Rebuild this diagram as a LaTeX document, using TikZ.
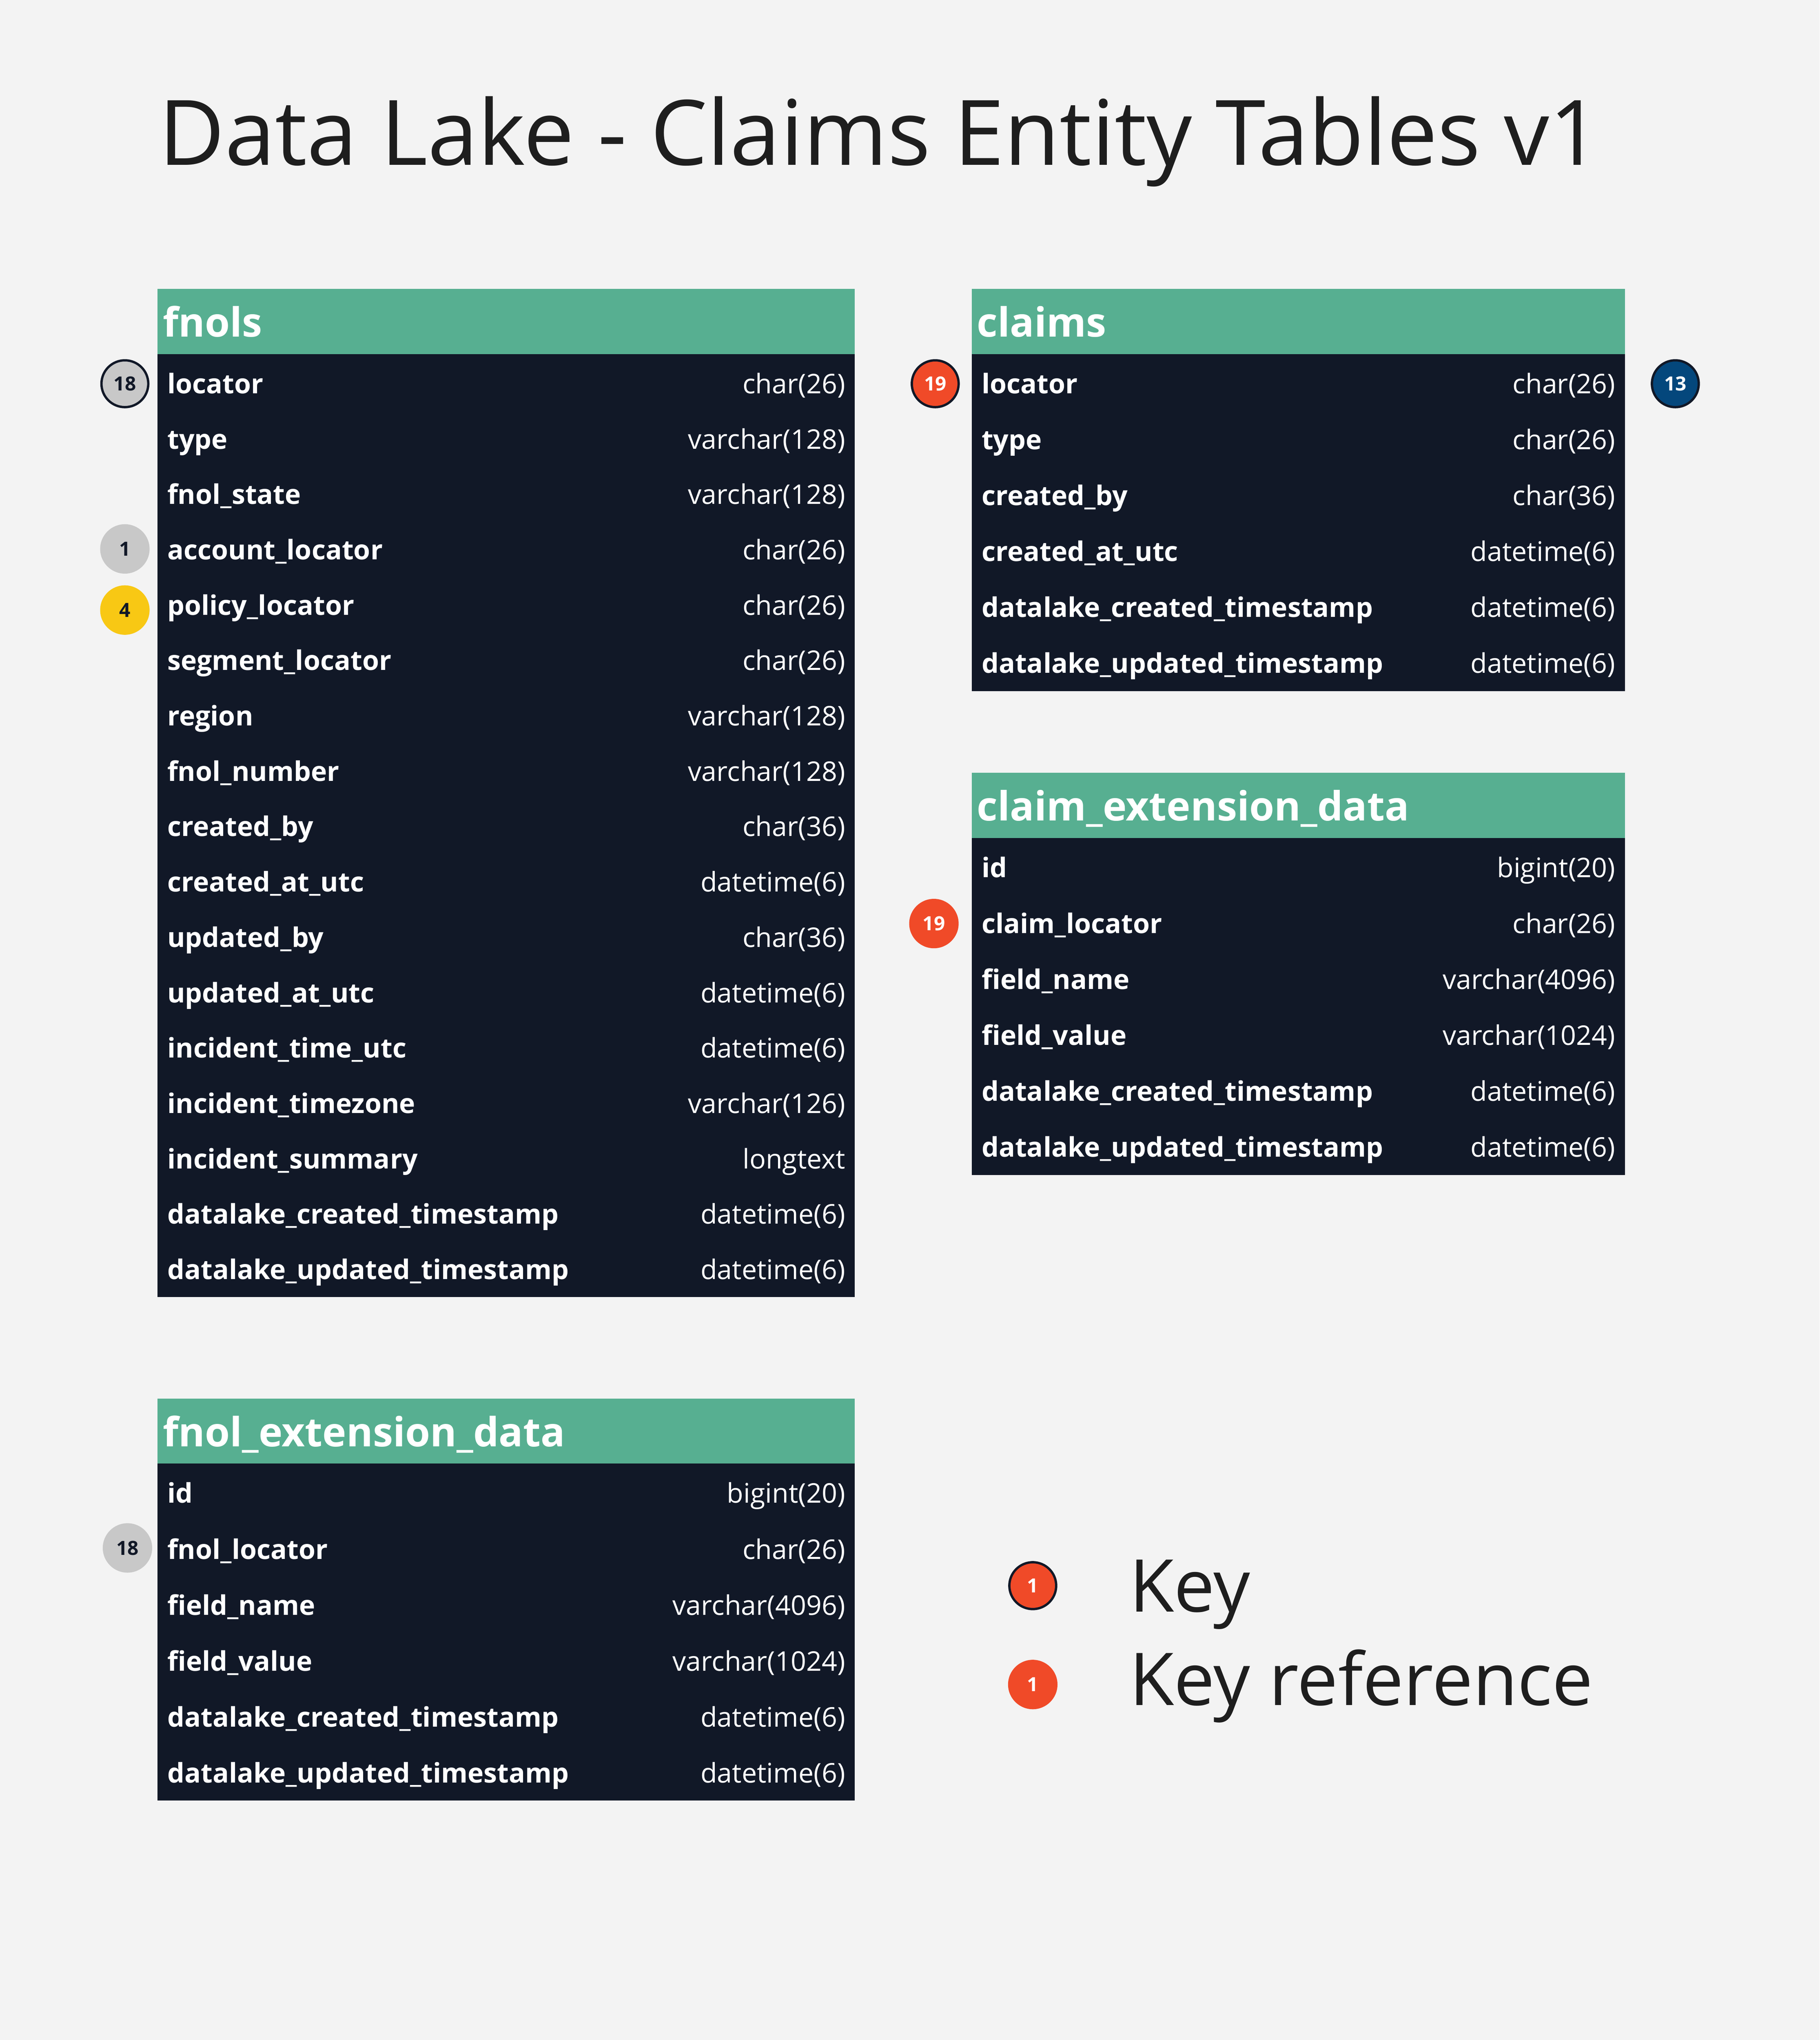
\documentclass[tikz,border=0pt]{standalone}
\usepackage{fontspec}
\setmainfont{Open Sans}
\definecolor{bg}{HTML}{F3F3F3}
\definecolor{hdrgreen}{HTML}{57AF91}
\definecolor{navy}{HTML}{111827}
\definecolor{ink}{HTML}{1E1E1E}
\definecolor{kred}{HTML}{F04A28}
\definecolor{kgrey}{HTML}{C8C8C8}
\definecolor{kyellow}{HTML}{F8C814}
\definecolor{kblue}{HTML}{04477C}
\newcommand\tblrows[6]{%
  \foreach \n/\t [count=\i] in {#6} {%
    \node[fname] (#1n\i) at (#2, {#4+(\i-1)*#5+7.5}) {\n};
    \node[ftype] (#1t\i) at (#3, {#4+(\i-1)*#5+7.5}) {\t};
  }}
\begin{document}
\begin{tikzpicture}[x=1pt,y=-1pt,
  hdrbox/.style={fill=hdrgreen, draw=none, inner sep=0pt, anchor=north west},
  bodybox/.style={fill=navy, draw=none, inner sep=0pt, anchor=north west},
  hdrtext/.style={anchor=base west, inner sep=0pt, text=white, font=\fontsize{31}{31}\selectfont\bfseries},
  fname/.style={anchor=base west, inner sep=0pt, text=white, font=\fontsize{20.8}{20.8}\selectfont\bfseries},
  ftype/.style={anchor=base east, inner sep=0pt, text=white, font=\fontsize{20.8}{20.8}\selectfont},
  badge/.style={circle, minimum size=38pt, inner sep=0pt, font=\fontsize{15}{15}\selectfont\bfseries},
  ringed/.style={draw=navy, line width=1.8pt, minimum size=36pt},
  legendtext/.style={anchor=base west, inner sep=0pt, text=ink, font=\fontsize{56}{56}\selectfont}
]
\fill[bg] (0,0) rectangle (1399,1568.3);
\useasboundingbox (0,0) rectangle (1399,1568.3);

\node[anchor=base west, inner sep=0pt, text=ink, font=\fontsize{69.5}{69.5}\selectfont] (title) at (122,127) {Data Lake - Claims Entity Tables v1};

% fnols
\node[hdrbox, minimum width=536pt, minimum height=50pt] (fnolsH) at (121,222) {};
\node[bodybox, minimum width=536pt, minimum height=725pt] (fnolsB) at (121,272) {};
\node[hdrtext] (fnolsL) at (125,259) {fnols};
\tblrows{fn}{128.5}{650}{295}{42.56}{locator/char(26), type/varchar(128), fnol\_state/varchar(128), account\_locator/char(26), policy\_locator/char(26), segment\_locator/char(26), region/varchar(128), fnol\_number/varchar(128), created\_by/char(36), created\_at\_utc/datetime(6), updated\_by/char(36), updated\_at\_utc/datetime(6), incident\_time\_utc/datetime(6), incident\_timezone/varchar(126), incident\_summary/longtext, datalake\_created\_timestamp/datetime(6), datalake\_updated\_timestamp/datetime(6)}

% claims
\node[hdrbox, minimum width=502pt, minimum height=50pt] (claimsH) at (747,222) {};
\node[bodybox, minimum width=502pt, minimum height=259pt] (claimsB) at (747,272) {};
\node[hdrtext] (claimsL) at (751,259) {claims};
\tblrows{cl}{754.5}{1242}{295}{43}{locator/char(26), type/char(26), created\_by/char(36), created\_at\_utc/datetime(6), datalake\_created\_timestamp/datetime(6), datalake\_updated\_timestamp/datetime(6)}

% claim_extension_data
\node[hdrbox, minimum width=502pt, minimum height=50pt] (ceH) at (747,594) {};
\node[bodybox, minimum width=502pt, minimum height=259pt] (ceB) at (747,644) {};
\node[hdrtext] (ceL) at (751,631) {claim\_extension\_data};
\tblrows{ce}{754.5}{1242}{667}{43}{id/bigint(20), claim\_locator/char(26), field\_name/varchar(4096), field\_value/varchar(1024), datalake\_created\_timestamp/datetime(6), datalake\_updated\_timestamp/datetime(6)}

% fnol_extension_data
\node[hdrbox, minimum width=536pt, minimum height=50pt] (feH) at (121,1075) {};
\node[bodybox, minimum width=536pt, minimum height=259pt] (feB) at (121,1125) {};
\node[hdrtext] (feL) at (125,1112) {fnol\_extension\_data};
\tblrows{fe}{128.5}{650}{1148}{43}{id/bigint(20), fnol\_locator/char(26), field\_name/varchar(4096), field\_value/varchar(1024), datalake\_created\_timestamp/datetime(6), datalake\_updated\_timestamp/datetime(6)}

% badges
\node[badge, ringed, fill=kgrey, text=navy] (b18a) at (96,295) {18};
\node[badge, fill=kgrey, text=navy] (b1) at (96,422) {1};
\node[badge, fill=kyellow, text=navy] (b4) at (96,469) {4};
\node[badge, ringed, fill=kred, text=white] (b19a) at (719,295) {19};
\node[badge, ringed, fill=kblue, text=white] (b13) at (1288,295) {13};
\node[badge, fill=kred, text=white] (b19b) at (718,710) {19};
\node[badge, fill=kgrey, text=navy] (b18b) at (98,1190) {18};

% legend
\node[badge, ringed, fill=kred, text=white] (lkey) at (794,1219) {1};
\node[badge, fill=kred, text=white] (lref) at (794,1295) {1};
\node[legendtext] (lkeyT) at (868,1239) {Key};
\node[legendtext] (lrefT) at (868,1311) {Key reference};
\end{tikzpicture}
\end{document}
